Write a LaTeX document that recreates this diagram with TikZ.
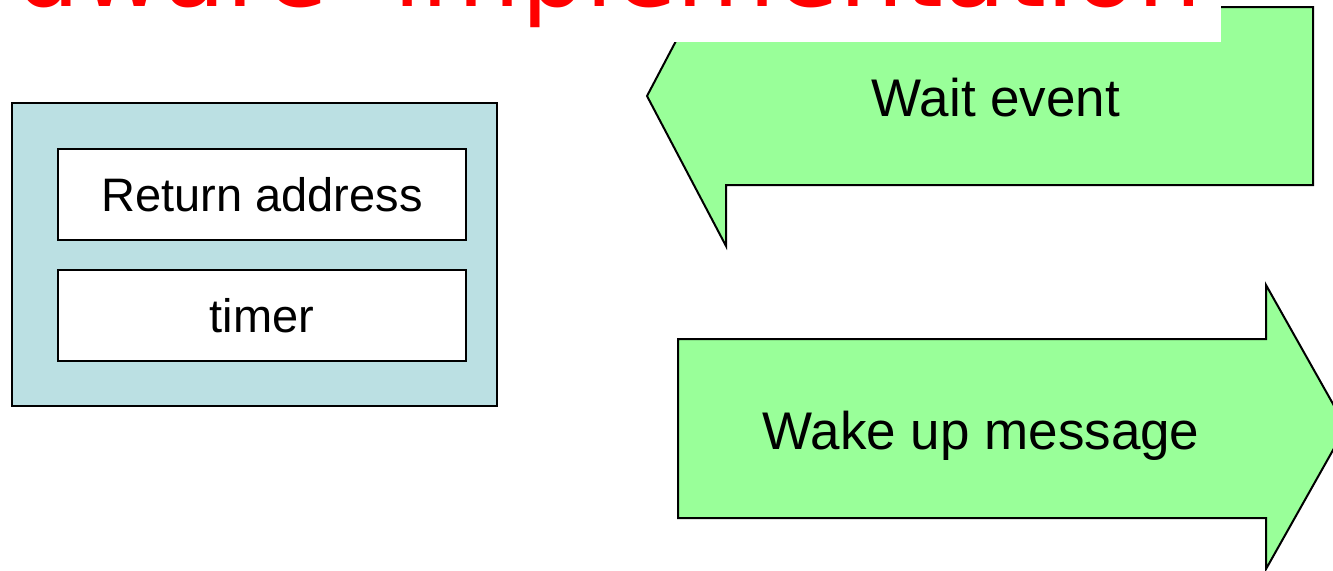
\documentclass[tikz,border=0pt]{standalone}
\usepackage{fontspec}
\setmainfont{Liberation Sans}
\newfontfamily\titlefont{DejaVu Sans}
\usepackage{tikz}

\begin{document}
\begin{tikzpicture}
			[x=0.5pt,y=-0.5pt,line join=miter,
			%Styles
			frame/.style={draw=black,line width=0.75pt,fill=framecolor,minimum width=242.5pt,minimum height=151.5pt,inner sep=0pt},
			field/.style={draw=black,line width=0.75pt,fill=white,minimum width=204pt,minimum height=45.5pt,inner sep=0pt,
				font=\fontsize{23.5}{28}\selectfont,text height=16.8pt,text depth=0pt},
			block arrow/.style={draw=black,line width=1pt,fill=arrowcolor},
			arrow text/.style={font=\fontsize{26.5}{32}\selectfont,text height=19pt,text depth=0pt,inner sep=0pt},
			title/.style={text=titlecolor,font=\titlefont\fontsize{51}{60}\selectfont,inner sep=0pt}
			]
			
			%Colors
			\definecolor{framecolor}{HTML}{BBE0E3}
			\definecolor{arrowcolor}{HTML}{99FF99}
			\definecolor{titlecolor}{HTML}{FF0000}
			
			\clip (0,0) rectangle (1333,570);
			
			%The graphic
			\node[frame] (frame) at (254.5,254.5) {};
			\node[field] (ret) at (262,194.5) {Return address};
			\node[field] (timer) at (262,315.5) {timer};
			
			\draw[block arrow] (1313,7) -- (1313,185) -- (726,185) -- (726,246)
				-- (647,96) -- (726,-54) -- (726,7) -- cycle;
			\node[arrow text] (wait) at (996,97) {Wait event};
			
			\draw[block arrow] (678,339) -- (1266,339) -- (1266,285) -- (1346,427)
				-- (1266,569) -- (1266,518) -- (678,518) -- cycle;
			\node[arrow text] (wake) at (981,430) {Wake up message};
			
			\fill[white] (-10,-10) rectangle (1221,42);
			\node[title,anchor=base east] (head) at (1202,6) {Hardware\ \ implementation};
		\end{tikzpicture}
\end{document}
